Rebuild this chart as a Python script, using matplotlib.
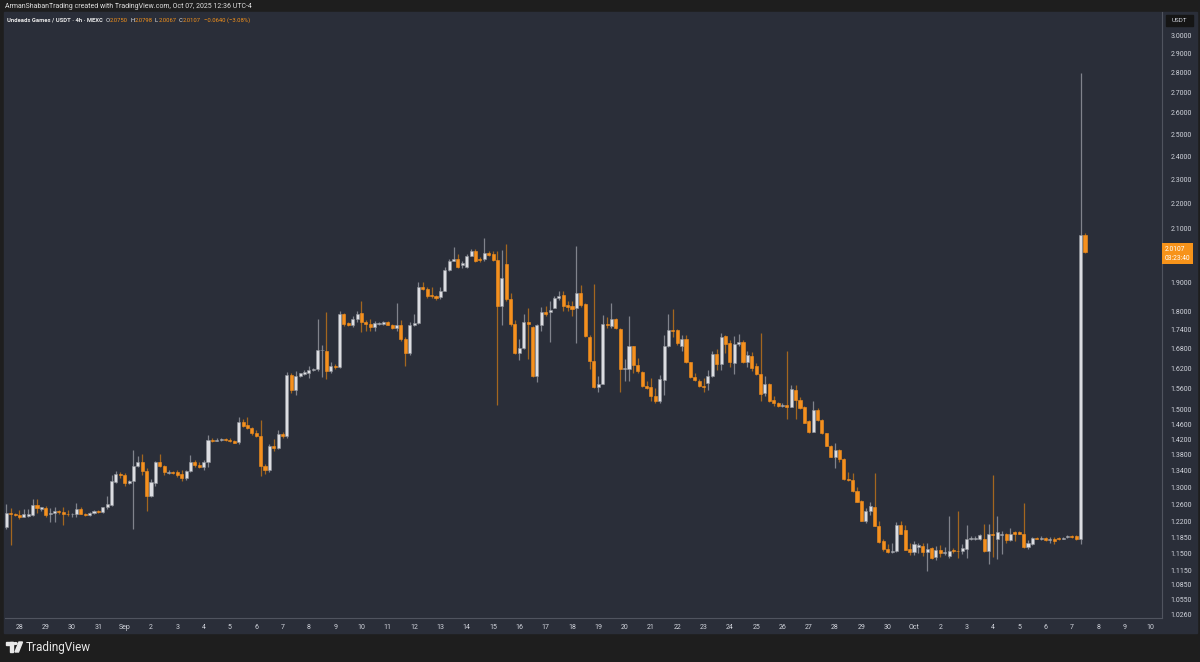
import pandas as pd
import matplotlib
matplotlib.use("Agg")
from matplotlib import pyplot as plt
from matplotlib import dates as mdates
from matplotlib import font_manager
from matplotlib.patches import Rectangle, Polygon, Circle
from matplotlib.ticker import FixedLocator, NullLocator, FixedFormatter

plt.rcParams['font.family'] = ['Roboto', 'DejaVu Sans']

# -- data (4h candles, UNDEADS / USDT on MEXC) --

first_candle = "2025-08-27 12:00"

opens = [
    1.208, 1.240, 1.237, 1.235, 1.231, 1.232, 1.234, 1.258, 1.248, 1.251,
    1.236, 1.239, 1.243, 1.241, 1.238, 1.236, 1.237, 1.248, 1.238, 1.234,
    1.239, 1.244, 1.241, 1.252, 1.257, 1.313, 1.333, 1.329, 1.311, 1.315,
    1.352, 1.362, 1.339, 1.279, 1.310, 1.363, 1.352, 1.335, 1.337, 1.336,
    1.333, 1.323, 1.340, 1.362, 1.355, 1.350, 1.362, 1.420, 1.417, 1.419,
    1.421, 1.419, 1.416, 1.414, 1.466, 1.460, 1.450, 1.438, 1.428, 1.353,
    1.341, 1.403, 1.399, 1.435, 1.428, 1.600, 1.557, 1.598, 1.604, 1.606,
    1.614, 1.617, 1.675, 1.672, 1.612, 1.628, 1.625, 1.790, 1.761, 1.754,
    1.776, 1.795, 1.765, 1.760, 1.750, 1.760, 1.760, 1.766, 1.757, 1.746,
    1.757, 1.711, 1.667, 1.756, 1.762, 1.885, 1.878, 1.857, 1.854, 1.849,
    1.871, 1.943, 1.978, 1.984, 1.962, 1.956, 1.996, 2.015, 1.984, 1.982,
    2.005, 2.004, 1.981, 1.818, 1.967, 1.843, 1.759, 1.667, 1.681, 1.764,
    1.750, 1.597, 1.755, 1.798, 1.797, 1.813, 1.846, 1.855, 1.822, 1.817,
    1.811, 1.864, 1.826, 1.718, 1.642, 1.565, 1.575, 1.759, 1.753, 1.775,
    1.743, 1.617, 1.618, 1.687, 1.630, 1.608, 1.569, 1.564, 1.538, 1.526,
    1.585, 1.688, 1.738, 1.738, 1.690, 1.711, 1.638, 1.595, 1.583, 1.568,
    1.576, 1.598, 1.665, 1.632, 1.720, 1.697, 1.637, 1.695, 1.702, 1.640,
    1.659, 1.626, 1.602, 1.547, 1.574, 1.527, 1.519, 1.512, 1.515, 1.508,
    1.557, 1.528, 1.507, 1.469, 1.441, 1.500, 1.472, 1.436, 1.403, 1.375,
    1.392, 1.369, 1.321, 1.317, 1.291, 1.267, 1.222, 1.243, 1.252, 1.210,
    1.176, 1.160, 1.153, 1.155, 1.211, 1.200, 1.159, 1.153, 1.164, 1.166,
    1.153, 1.161, 1.142, 1.158, 1.150, 1.145, 1.158, 1.156, 1.154, 1.160,
    1.181, 1.182, 1.182, 1.182, 1.156, 1.193, 1.182, 1.189, 1.193, 1.178,
    1.196, 1.196, 1.193, 1.163, 1.171, 1.184, 1.181, 1.183, 1.178, 1.182,
    1.184, 1.181, 1.185, 1.187, 1.187, 1.181, 2.0750,
]

highs = [
    1.260, 1.250, 1.240, 1.247, 1.248, 1.248, 1.273, 1.272, 1.254, 1.255,
    1.250, 1.252, 1.246, 1.252, 1.247, 1.239, 1.262, 1.254, 1.240, 1.242,
    1.247, 1.246, 1.254, 1.280, 1.330, 1.339, 1.338, 1.335, 1.317, 1.392,
    1.377, 1.383, 1.348, 1.320, 1.365, 1.383, 1.355, 1.342, 1.340, 1.342,
    1.343, 1.341, 1.380, 1.368, 1.363, 1.368, 1.432, 1.425, 1.423, 1.425,
    1.425, 1.425, 1.419, 1.480, 1.476, 1.481, 1.453, 1.445, 1.472, 1.358,
    1.408, 1.422, 1.446, 1.440, 1.609, 1.607, 1.613, 1.607, 1.616, 1.627,
    1.622, 1.776, 1.693, 1.798, 1.640, 1.634, 1.801, 1.795, 1.766, 1.784,
    1.802, 1.834, 1.773, 1.774, 1.767, 1.766, 1.768, 1.768, 1.759, 1.830,
    1.771, 1.716, 1.765, 1.790, 1.900, 1.901, 1.882, 1.885, 1.857, 1.885,
    1.955, 1.982, 2.028, 2.003, 1.975, 2.004, 2.019, 2.019, 1.990, 2.063,
    2.015, 2.015, 2.015, 2.017, 2.038, 1.861, 1.772, 1.711, 1.790, 1.813,
    1.753, 1.759, 1.815, 1.818, 1.836, 1.854, 1.870, 1.870, 1.836, 1.836,
    2.031, 1.890, 1.829, 1.723, 1.893, 1.598, 1.788, 1.783, 1.830, 1.780,
    1.745, 1.648, 1.785, 1.690, 1.650, 1.612, 1.582, 1.590, 1.562, 1.600,
    1.723, 1.790, 1.809, 1.742, 1.723, 1.723, 1.640, 1.607, 1.588, 1.590,
    1.614, 1.674, 1.678, 1.730, 1.723, 1.707, 1.720, 1.726, 1.706, 1.674,
    1.671, 1.636, 1.730, 1.596, 1.576, 1.540, 1.521, 1.518, 1.672, 1.570,
    1.570, 1.535, 1.510, 1.471, 1.525, 1.504, 1.476, 1.438, 1.405, 1.411,
    1.396, 1.371, 1.338, 1.334, 1.300, 1.269, 1.250, 1.265, 1.334, 1.222,
    1.180, 1.171, 1.172, 1.219, 1.221, 1.211, 1.172, 1.176, 1.172, 1.172,
    1.172, 1.163, 1.165, 1.168, 1.163, 1.232, 1.161, 1.244, 1.170, 1.213,
    1.187, 1.187, 1.193, 1.215, 1.215, 1.330, 1.232, 1.198, 1.194, 1.206,
    1.199, 1.199, 1.263, 1.178, 1.186, 1.186, 1.187, 1.186, 1.186, 1.186,
    1.186, 1.186, 1.189, 1.189, 1.189, 2.800, 2.0798,
]

lows = [
    1.202, 1.168, 1.232, 1.225, 1.229, 1.230, 1.232, 1.240, 1.244, 1.230,
    1.218, 1.218, 1.237, 1.212, 1.232, 1.231, 1.230, 1.236, 1.232, 1.232,
    1.238, 1.240, 1.240, 1.249, 1.255, 1.310, 1.323, 1.303, 1.308, 1.203,
    1.350, 1.330, 1.245, 1.277, 1.302, 1.350, 1.329, 1.333, 1.333, 1.325,
    1.315, 1.317, 1.338, 1.349, 1.346, 1.341, 1.350, 1.413, 1.415, 1.417,
    1.416, 1.413, 1.410, 1.409, 1.452, 1.447, 1.433, 1.427, 1.326, 1.333,
    1.338, 1.390, 1.395, 1.425, 1.425, 1.548, 1.543, 1.595, 1.600, 1.590,
    1.611, 1.612, 1.595, 1.587, 1.605, 1.619, 1.622, 1.752, 1.752, 1.749,
    1.766, 1.732, 1.735, 1.735, 1.736, 1.757, 1.757, 1.754, 1.744, 1.737,
    1.705, 1.626, 1.660, 1.752, 1.758, 1.873, 1.845, 1.846, 1.840, 1.843,
    1.868, 1.940, 1.976, 1.950, 1.951, 1.952, 1.993, 1.973, 1.973, 1.978,
    1.994, 1.975, 1.514, 1.755, 1.835, 1.753, 1.664, 1.645, 1.678, 1.648,
    1.595, 1.581, 1.735, 1.785, 1.700, 1.810, 1.840, 1.800, 1.800, 1.784,
    1.698, 1.815, 1.717, 1.617, 1.563, 1.551, 1.574, 1.745, 1.745, 1.743,
    1.551, 1.582, 1.582, 1.606, 1.607, 1.565, 1.560, 1.526, 1.518, 1.520,
    1.543, 1.686, 1.718, 1.693, 1.674, 1.636, 1.590, 1.582, 1.565, 1.551,
    1.555, 1.595, 1.615, 1.614, 1.667, 1.624, 1.603, 1.690, 1.637, 1.623,
    1.611, 1.600, 1.526, 1.540, 1.523, 1.512, 1.507, 1.508, 1.476, 1.507,
    1.476, 1.502, 1.464, 1.438, 1.439, 1.469, 1.434, 1.402, 1.374, 1.347,
    1.363, 1.317, 1.315, 1.289, 1.264, 1.221, 1.216, 1.235, 1.209, 1.173,
    1.155, 1.151, 1.151, 1.153, 1.191, 1.157, 1.146, 1.146, 1.150, 1.144,
    1.113, 1.138, 1.136, 1.142, 1.146, 1.141, 1.150, 1.141, 1.149, 1.141,
    1.178, 1.179, 1.178, 1.153, 1.127, 1.143, 1.139, 1.149, 1.172, 1.176,
    1.176, 1.191, 1.162, 1.159, 1.169, 1.180, 1.179, 1.176, 1.172, 1.170,
    1.179, 1.180, 1.183, 1.183, 1.179, 1.170, 2.0067,
]

closes = [
    1.240, 1.236, 1.234, 1.230, 1.236, 1.237, 1.258, 1.250, 1.252, 1.234,
    1.239, 1.243, 1.241, 1.237, 1.236, 1.238, 1.248, 1.238, 1.234, 1.240,
    1.244, 1.241, 1.252, 1.259, 1.315, 1.333, 1.329, 1.311, 1.315, 1.352,
    1.362, 1.339, 1.279, 1.312, 1.362, 1.352, 1.336, 1.337, 1.335, 1.330,
    1.323, 1.340, 1.362, 1.355, 1.350, 1.361, 1.418, 1.417, 1.419, 1.421,
    1.418, 1.416, 1.412, 1.466, 1.457, 1.450, 1.437, 1.430, 1.353, 1.341,
    1.402, 1.399, 1.434, 1.428, 1.599, 1.557, 1.597, 1.605, 1.608, 1.614,
    1.618, 1.675, 1.677, 1.612, 1.628, 1.623, 1.790, 1.759, 1.756, 1.776,
    1.793, 1.764, 1.759, 1.750, 1.761, 1.763, 1.766, 1.756, 1.747, 1.757,
    1.711, 1.667, 1.756, 1.762, 1.885, 1.878, 1.853, 1.853, 1.846, 1.870,
    1.944, 1.978, 1.985, 1.956, 1.968, 1.996, 2.015, 1.977, 1.979, 2.006,
    2.000, 1.979, 1.818, 1.914, 1.841, 1.759, 1.667, 1.682, 1.764, 1.759,
    1.597, 1.755, 1.798, 1.791, 1.804, 1.847, 1.852, 1.820, 1.815, 1.807,
    1.864, 1.823, 1.720, 1.641, 1.565, 1.574, 1.759, 1.754, 1.775, 1.745,
    1.617, 1.620, 1.688, 1.630, 1.612, 1.569, 1.563, 1.540, 1.526, 1.587,
    1.690, 1.738, 1.736, 1.697, 1.710, 1.638, 1.595, 1.585, 1.568, 1.564,
    1.598, 1.665, 1.632, 1.718, 1.695, 1.638, 1.695, 1.702, 1.640, 1.662,
    1.620, 1.602, 1.546, 1.574, 1.526, 1.518, 1.510, 1.515, 1.509, 1.560,
    1.528, 1.506, 1.465, 1.441, 1.500, 1.472, 1.436, 1.403, 1.376, 1.392,
    1.369, 1.319, 1.317, 1.291, 1.265, 1.222, 1.244, 1.255, 1.210, 1.175,
    1.160, 1.153, 1.156, 1.211, 1.192, 1.157, 1.152, 1.170, 1.167, 1.153,
    1.160, 1.141, 1.158, 1.150, 1.152, 1.156, 1.155, 1.154, 1.161, 1.180,
    1.184, 1.184, 1.189, 1.156, 1.193, 1.189, 1.196, 1.191, 1.178, 1.191,
    1.193, 1.193, 1.163, 1.172, 1.184, 1.181, 1.183, 1.178, 1.182, 1.177,
    1.181, 1.184, 1.187, 1.185, 1.181, 2.075, 2.0107,
]

price_ticks = [1.026, 1.055, 1.085, 1.115, 1.15, 1.185, 1.22, 1.26, 1.30,
               1.34, 1.38, 1.42, 1.46, 1.50, 1.56, 1.62, 1.68, 1.74, 1.80,
               1.90, 2.10, 2.20, 2.30, 2.40, 2.50, 2.60, 2.70, 2.80, 2.90, 3.00]

# legend pieces: (text, colour key, gap in px before the piece)
legend_parts = [("Undeads Games / USDT · 4h · MEXC", "w", 0), ("O", "w", 2.5),
                ("2.0750", "o", 0.2), ("H", "w", 2.5), ("2.0798", "o", 0.2),
                ("L", "w", 2.5), ("2.0067", "o", 0.2), ("C", "w", 2.5),
                ("2.0107", "o", 0.2), ("−0.0640 (−3.08%)", "o", 3.5)]

# -- colours --

BG = "#2a2e39"
FRAME = "#1e1e1e"
UP_BODY = "#dcdde2"
UP_EDGE = "#8f9299"
UP_WICK = "#80838c"
DOWN_BODY = "#f5901e"
DOWN_WICK = "#a3661f"
TEXT = "#d1d4dc"

W, H = 1200, 662

# a narrow face for the legend line, if there is one
installed = {f.name for f in font_manager.fontManager.ttflist}
LEGEND_FONT = ["Liberation Sans Narrow"] if "Liberation Sans Narrow" in installed else ["Roboto"]


def px(x, y):
    # pixel position (from top left) to figure fraction
    return x / W, 1 - y / H


def draw_candles(axes, times):
    step = 4 / 24
    for t, o, h, l, c in zip(times, opens, highs, lows, closes):
        up = c >= o
        axes.vlines(t, l, h, color=UP_WICK if up else DOWN_WICK, linewidth=0.9, zorder=2)
        lo, hi = min(o, c), max(o, c)
        if hi / lo < 1.0012:
            hi = lo * 1.0012
        axes.bar(t, hi - lo, bottom=lo, width=step * 0.7,
                 color=UP_BODY if up else DOWN_BODY,
                 edgecolor=UP_EDGE if up else DOWN_BODY, linewidth=0.4, zorder=3)


def draw_legend(figure):
    # lay the legend pieces one after another, measuring each one
    renderer = figure.canvas.get_renderer()
    x = 7
    size = 5 if LEGEND_FONT[0] != "Roboto" else 4.2
    for txt, kind, gap in legend_parts:
        x += gap
        t = figure.text(*px(x, 20), txt, fontsize=size, va="center",
                        family=LEGEND_FONT + ["DejaVu Sans"],
                        color="#e8e8e8" if kind == "w" else "#f7931a",
                        fontweight="bold" if x == 7 else "normal")
        x += t.get_window_extent(renderer).width


# -- actual plot --

fig = plt.figure(figsize=(12, 6.62), dpi=100, facecolor=FRAME)
fig.patches.append(Rectangle(px(4, 633), 1193 / W, 621 / H, transform=fig.transFigure,
                             color=BG, zorder=-5))

ax = fig.add_axes([5 / W, 44 / H, 1157 / W, 606 / H])
ax.set_facecolor(BG)

times = mdates.date2num(pd.date_range(first_candle, periods=len(opens), freq="4h"))
draw_candles(ax, times)

ax.set_yscale("log")
ax.set_ylim(1.02025, 3.1346)
base = mdates.date2num(pd.Timestamp("2025-08-27"))
ax.set_xlim(base + 0.4506, base + 44.426)

# price scale on the right
ax.yaxis.tick_right()
ax.yaxis.set_major_locator(FixedLocator(price_ticks))
ax.yaxis.set_major_formatter(FixedFormatter(["%.4f" % p for p in price_ticks]))
ax.yaxis.set_minor_locator(NullLocator())
ax.tick_params(axis="y", length=0, pad=6, labelsize=5, labelcolor=TEXT)

# time scale
days = pd.date_range("2025-08-28", "2025-10-10", freq="D")
labels = [d.strftime("%b") if d.day == 1 else str(d.day) for d in days]
ax.set_xticks(mdates.date2num(days))
ax.set_xticklabels(labels)
ax.xaxis.set_minor_locator(NullLocator())
ax.tick_params(axis="x", length=0, pad=4, labelsize=5, labelcolor=TEXT)

for side in ["top", "left"]:
    ax.spines[side].set_visible(False)
for side in ["right", "bottom"]:
    ax.spines[side].set_color("#50545f")
    ax.spines[side].set_linewidth(0.8)

# last price label
ax.annotate("%.4f\n03:23:40" % closes[-1], xy=(1, closes[-1]),
            xycoords=("axes fraction", "data"), xytext=(2.2, -1.5), textcoords="offset points",
            ha="left", va="center", fontsize=4.8, color="white", linespacing=1.35,
            bbox=dict(boxstyle="square,pad=0.4", fc="#f7931a", ec="none"),
            annotation_clip=False)

# currency box on top of the price scale
fig.patches.append(Rectangle(px(1166, 26), 27 / W, 11 / H, transform=fig.transFigure,
                             color="#151515", zorder=1))
fig.text(*px(1179.5, 20.5), "USDT", fontsize=4.5, color=TEXT, ha="center", va="center")

# header and legend
fig.text(*px(5, 6), "ArmanShabanTrading created with TradingView.com, Oct 07, 2025 12:36 UTC-4",
         fontsize=5, color="#e0e0e0", va="center")
draw_legend(fig)

# TradingView logo at the bottom
fig.patches.append(Rectangle(px(6, 645), 7 / W, 3 / H, transform=fig.transFigure,
                             color="#e8e8e8"))
fig.patches.append(Rectangle(px(10, 652), 3 / W, 10 / H, transform=fig.transFigure,
                             color="#e8e8e8"))
fig.patches.append(Circle(px(15.5, 643.5), 1.6 / W, transform=fig.transFigure, color="#e8e8e8"))
fig.patches.append(Polygon([px(15, 652), px(19, 642), px(22.5, 642), px(18.5, 652)],
                           closed=True, transform=fig.transFigure, color="#e8e8e8"))
fig.text(*px(26, 647.5), "TradingView", fontsize=8.5, color="#e8e8e8", va="center")

fig.savefig("out.png", dpi=100, facecolor=FRAME)
